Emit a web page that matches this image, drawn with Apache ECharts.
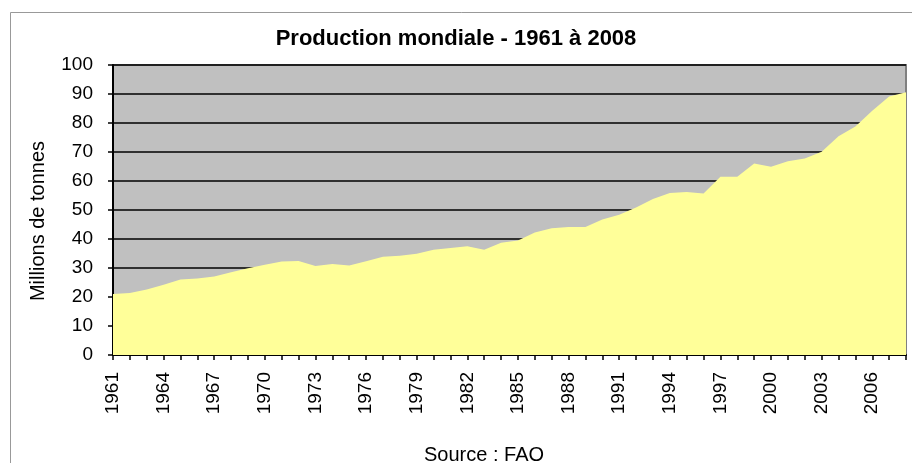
<!DOCTYPE html>
<html>
<head>
<meta charset="utf-8">
<script src="https://cdn.jsdelivr.net/npm/echarts@6/dist/echarts.min.js"></script>
<style>
html,body{margin:0;padding:0;background:#fff;}
#c{width:912px;height:463px;}
</style>
</head>
<body>
<div id="c"></div>
<script>
const years = [1961,1962,1963,1964,1965,1966,1967,1968,1969,1970,1971,1972,1973,1974,1975,1976,1977,1978,1979,1980,1981,1982,1983,1984,1985,1986,1987,1988,1989,1990,1991,1992,1993,1994,1995,1996,1997,1998,1999,2000,2001,2002,2003,2004,2005,2006,2007,2008];
const production = [21.0,21.4,22.6,24.2,26.0,26.4,27.1,28.5,29.9,31.1,32.2,32.4,30.7,31.4,30.9,32.3,33.9,34.2,34.9,36.3,36.9,37.5,36.3,38.7,39.5,42.2,43.7,44.1,44.1,46.7,48.4,50.9,53.8,55.9,56.2,55.7,61.5,61.5,66.0,64.9,66.8,67.8,70.1,75.4,78.8,84.2,89.1,90.6];
const titleText = 'Production mondiale - 1961 à 2008';
const sourceText = 'Source : FAO';
const yAxisName = 'Millions de tonnes';

const FONT = '"Liberation Sans", Arial, sans-serif';
const chart = echarts.init(document.getElementById('c'), null, {renderer:'canvas'});
chart.setOption({
  animation:false,
  backgroundColor:'#ffffff',
  graphic:[{
    type:'rect', left:8, top:10, z:-10, silent:true,
    shape:{width:1000, height:1000},
    style:{fill:'none', stroke:'#999999', lineWidth:1}
  },{
    type:'text', x:484, y:455, silent:true,
    style:{text:sourceText, fill:'#000', font:'20px "Liberation Sans", Arial, sans-serif', textAlign:'center', textVerticalAlign:'middle'}
  },{
    type:'text', x:38, y:221, rotation:Math.PI/2, silent:true,
    style:{text:yAxisName, fill:'#000', font:'20px "Liberation Sans", Arial, sans-serif', textAlign:'center', textVerticalAlign:'middle'}
  }],
  title:[
    {text:titleText, left:'center', top:23, textStyle:{fontFamily:FONT, fontSize:22, fontWeight:'bold', color:'#000'}}
  ],
  grid:{left:113, right:6, top:65, bottom:108, show:true, backgroundColor:'#c0c0c0', borderColor:'#808080', borderWidth:2},
  xAxis:{
    type:'category', data:years, boundaryGap:false,
    axisLine:{lineStyle:{color:'#000', width:2}},
    axisTick:{show:true, interval:0, length:5, lineStyle:{color:'#000', width:1.5}},
    axisLabel:{interval:2, rotate:90, margin:17, fontFamily:FONT, fontSize:19, color:'#000'},
    splitLine:{show:false}
  },
  yAxis:{
    type:'value', min:0, max:100, interval:10,
    axisLine:{show:true, lineStyle:{color:'#000', width:2}},
    axisTick:{show:true, length:5, lineStyle:{color:'#000', width:1.5}},
    axisLabel:{margin:20, fontFamily:FONT, fontSize:19, color:'#000'},
    splitLine:{show:true, lineStyle:{color:'#000', width:1.5}}
  },
  series:[{
    type:'line', data:production, symbol:'none',
    lineStyle:{width:0}, areaStyle:{color:'#ffff99', opacity:1}
  }]
});
</script>
</body>
</html>
